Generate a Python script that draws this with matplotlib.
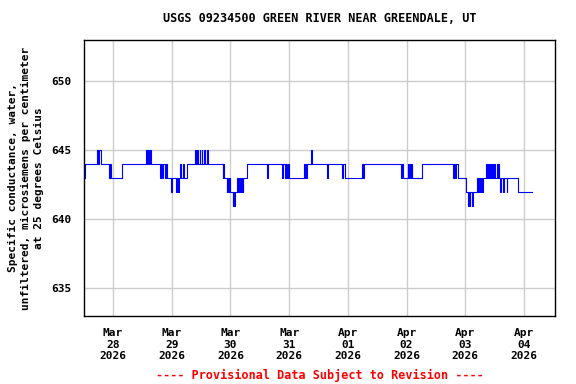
import matplotlib

matplotlib.use("Agg")
import matplotlib.dates as mdates
import matplotlib.pyplot as plt
import pandas as pd

# change points of the 15-min record (time, value in uS/cm)
change_times = [
    "03-27 12:10", "03-27 12:30", "03-27 17:15", "03-27 17:45", "03-27 18:25",
    "03-27 19:00", "03-27 22:20", "03-27 22:40", "03-27 23:00", "03-28 03:50",
    "03-28 13:30", "03-28 13:55", "03-28 14:10", "03-28 14:50", "03-28 15:10",
    "03-28 15:25", "03-28 19:15", "03-28 19:30", "03-28 20:10", "03-28 20:25",
    "03-28 21:15", "03-28 21:35", "03-28 22:05", "03-28 23:35", "03-29 00:00",
    "03-29 01:45", "03-29 02:10", "03-29 02:25", "03-29 03:05", "03-29 03:25",
    "03-29 03:40", "03-29 04:35", "03-29 04:55", "03-29 06:10", "03-29 09:30",
    "03-29 09:55", "03-29 10:30", "03-29 10:55", "03-29 11:25", "03-29 11:40",
    "03-29 12:15", "03-29 12:30", "03-29 13:15", "03-29 13:30", "03-29 14:20",
    "03-29 14:45", "03-29 20:50", "03-29 21:05", "03-29 21:25", "03-29 22:30",
    "03-29 22:45", "03-29 23:10", "03-29 23:25", "03-29 23:50", "03-30 00:55",
    "03-30 01:10", "03-30 01:35", "03-30 02:00", "03-30 02:40", "03-30 03:00",
    "03-30 03:25", "03-30 03:40", "03-30 03:55", "03-30 04:20", "03-30 04:35",
    "03-30 05:00", "03-30 05:15", "03-30 06:40", "03-30 14:50", "03-30 15:30",
    "03-30 21:15", "03-30 21:40", "03-30 22:20", "03-30 22:45", "03-30 23:10",
    "03-30 23:35", "03-31 00:05", "03-31 06:05", "03-31 06:25", "03-31 06:35",
    "03-31 06:55", "03-31 07:10", "03-31 08:55", "03-31 09:15", "03-31 15:20",
    "03-31 15:55", "03-31 21:45", "03-31 22:10", "03-31 22:50", "04-01 05:40",
    "04-01 06:05", "04-01 06:35", "04-01 21:40", "04-01 22:15", "04-01 22:35",
    "04-02 00:45", "04-02 01:00", "04-02 01:25", "04-02 01:45", "04-02 02:10",
    "04-02 02:25", "04-02 06:15", "04-02 19:10", "04-02 19:30", "04-02 19:55",
    "04-02 20:15", "04-02 21:10", "04-03 00:10", "04-03 01:15", "04-03 01:35",
    "04-03 01:50", "04-03 02:05", "04-03 02:55", "04-03 03:10", "04-03 04:55",
    "04-03 05:15", "04-03 05:45", "04-03 06:05", "04-03 06:30", "04-03 06:50",
    "04-03 07:15", "04-03 08:30", "04-03 08:55", "04-03 09:20", "04-03 09:45",
    "04-03 10:10", "04-03 10:40", "04-03 10:55", "04-03 11:30", "04-03 11:45",
    "04-03 12:20", "04-03 12:55", "04-03 13:15", "04-03 13:30", "04-03 13:55",
    "04-03 14:15", "04-03 14:30", "04-03 15:35", "04-03 15:50", "04-03 17:00",
    "04-03 17:15", "04-03 21:45", "04-04 03:10",
]
change_values = [
    643, 644, 645, 644, 645,
    644, 643, 644, 643, 644,
    645, 644, 645, 644, 645,
    644, 643, 644, 643, 644,
    643, 644, 643, 642, 643,
    642, 643, 642, 643, 644,
    643, 644, 643, 644, 645,
    644, 645, 644, 645, 644,
    645, 644, 645, 644, 645,
    644, 643, 644, 643, 642,
    643, 642, 643, 642, 641,
    642, 641, 642, 643, 642,
    643, 642, 643, 642, 643,
    642, 643, 644, 643, 644,
    643, 644, 643, 644, 643,
    644, 643, 644, 643, 644,
    643, 644, 645, 644, 643,
    644, 643, 644, 643, 644,
    643, 644, 643, 644, 643,
    644, 643, 644, 643, 644,
    643, 644, 643, 644, 643,
    644, 643, 642, 641, 642,
    641, 642, 641, 642, 643,
    642, 643, 642, 643, 642,
    643, 644, 643, 644, 643,
    644, 643, 644, 643, 644,
    643, 644, 643, 644, 643,
    642, 643, 642, 643, 642,
    643, 642, 642,
]

tick_dates = ["2026-03-28", "2026-03-29", "2026-03-30", "2026-03-31",
              "2026-04-01", "2026-04-02", "2026-04-03", "2026-04-04"]
tick_labels = ["Mar\n28\n2026", "Mar\n29\n2026", "Mar\n30\n2026", "Mar\n31\n2026",
               "Apr\n01\n2026", "Apr\n02\n2026", "Apr\n03\n2026", "Apr\n04\n2026"]
y_ticks = [635, 640, 645, 650]

times = pd.to_datetime(["2026-" + t for t in change_times])

font = "DejaVu Sans Mono"
fig = plt.figure(figsize=(5.76, 3.84), dpi=100)
ax = fig.add_axes([84 / 576, 1 - 316 / 384, 471 / 576, 276 / 384])

ax.step(times, change_values, where="post", color="#0000ff", linewidth=0.8)

ax.set_xlim(pd.Timestamp("2026-03-27 12:08"), pd.Timestamp("2026-04-04 12:42"))
ax.set_ylim(633, 653)
ax.set_xticks(pd.to_datetime(tick_dates))
ax.set_xticklabels(tick_labels, fontfamily=font, fontweight="bold", fontsize=8,
                   linespacing=1.15)
ax.set_yticks(y_ticks)
ax.set_yticklabels([str(v) for v in y_ticks], fontfamily=font,
                   fontweight="bold", fontsize=8)
ax.tick_params(length=0, pad=9)
ax.tick_params(axis="x", pad=9)
ax.grid(True, color="#cccccc", linewidth=1)
ax.set_axisbelow(True)
for s in ax.spines.values():
    s.set_linewidth(1)

fig.text(319.5 / 576, 1 - 19 / 384, "USGS 09234500 GREEN RIVER NEAR GREENDALE, UT",
         ha="center", va="center", fontfamily=font, fontweight="bold", fontsize=8.5)
fig.text(26 / 576, 1 - 178 / 384,
         "Specific conductance, water,\nunfiltered, microsiemens per centimeter\nat 25 degrees Celsius",
         ha="center", va="center", rotation=90, multialignment="center",
         fontfamily=font, fontweight="bold", fontsize=8, linespacing=1.4)
fig.text(320 / 576, 1 - 375 / 384, "---- Provisional Data Subject to Revision ----",
         ha="center", va="center", color="red", fontfamily=font,
         fontweight="bold", fontsize=8.5)

fig.savefig("out.png", dpi=100)
